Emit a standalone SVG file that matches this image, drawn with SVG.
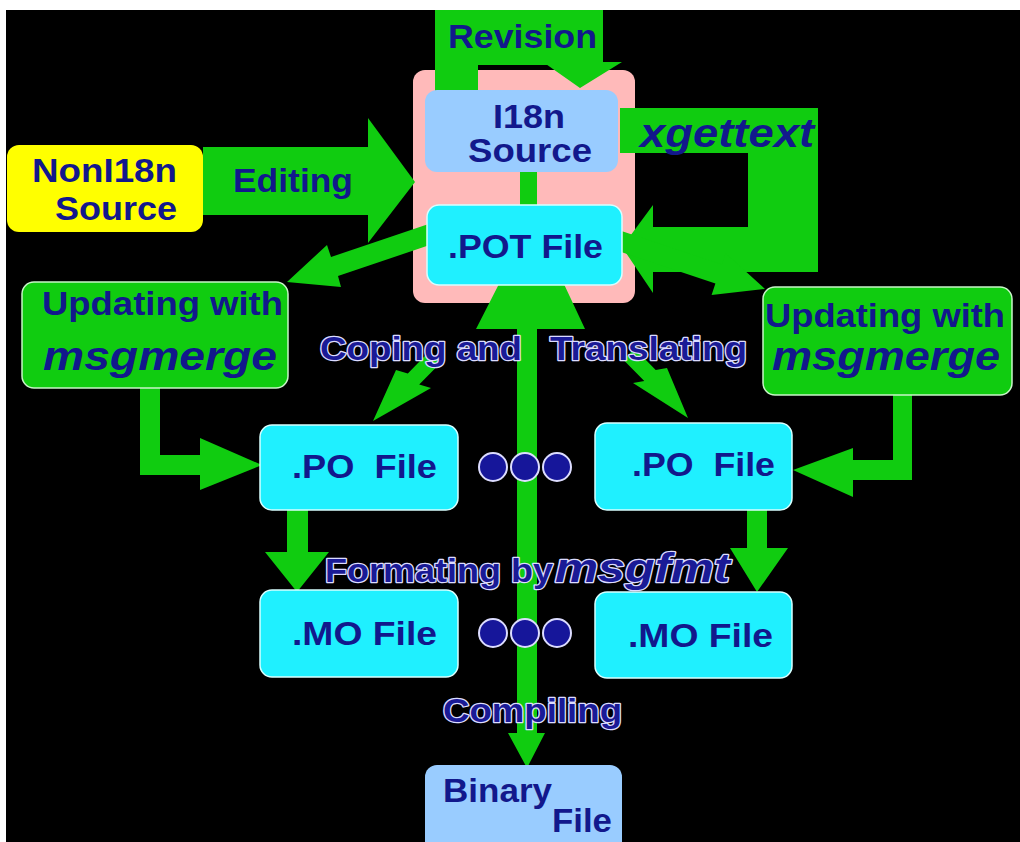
<svg xmlns="http://www.w3.org/2000/svg" width="1020" height="842" viewBox="0 0 1020 842">
<style>
text{font-family:"Liberation Sans",Arial,sans-serif;font-weight:bold;fill:#12188c}
.t{font-size:33px}
.it{font-style:italic;font-size:41px}
.halo{stroke:#dcdcff;stroke-width:2.5px;paint-order:stroke fill;fill:#1a1a96;stroke-linejoin:round}
.g{fill:#10cc10}
.gbox{fill:#10cc10;stroke:#c8f5c8;stroke-width:1.5}
.cyan{fill:#1ff0ff;stroke:#d8ffff;stroke-width:1.5}
.blue{fill:#99ccff}
.dot{fill:#16169a;stroke:#dcdcff;stroke-width:2}
</style>
<rect x="0" y="0" width="1020" height="842" fill="#000"/>
<rect x="0" y="0" width="1020" height="10" fill="#fff"/>
<rect x="0" y="0" width="6" height="842" fill="#fff"/>

<g id="source-area">
<rect x="413" y="70" width="222" height="233" rx="12" fill="#ffbaba"/>
</g>

<g id="connectors">
<!-- Editing -->
<polygon class="g" points="203,147 368,147 368,118 415,182 368,243 368,215 203,215"/>
<!-- Revision loop -->
<polygon class="g" points="435,95 435,10 603,10 603,62 622,62 580,88 543,62 558,62 558,65 478,65 478,95"/>
<!-- xgettext loop -->
<polygon class="g" points="620,108 818,108 818,272 653,272 653,293 622,247 653,205 653,227 748,227 748,153 620,153"/>
<!-- I18n to POT -->
<rect class="g" x="520" y="170" width="17" height="38"/>
<!-- POT to left msgmerge -->
<polygon class="g" points="287,282 341,287 338,276 480,228 473,209 331,257 327,245"/>
<!-- POT to right msgmerge -->
<polygon class="g" points="765,289 711.6,295 715.4,283.6 573.2,235.9 579.6,216.9 721.8,264.6 725.6,253.2"/>
<!-- left msgmerge to left PO -->
<polygon class="g" points="140,386 160,386 160,455 200,455 200,438 262,465 200,490 200,475 140,475"/>
<!-- right msgmerge to right PO -->
<polygon class="g" points="893,393 912,393 912,480 853,480 853,497 793,470 853,448 853,460 893,460"/>
<!-- central vertical: POT / Compiling to Binary -->
<polygon class="g" points="476,329 500,282 563,282 585,329 537,329 537,733 545,733 527,768 508,733 517,733 517,329"/>
<!-- Coping heads -->
<polygon class="g" points="373,421 396,370 407.8,373.4 428.8,352.1 440.2,363.3 419.2,384.6 431,388"/>
<polygon class="g" points="688,418 633,383 644.3,381.1 623.3,359.8 634.7,348.6 655.7,369.9 667,368"/>
<!-- PO to MO -->
<polygon class="g" points="287,508 308,508 308,552 329,552 297,592 265,552 287,552"/>
<polygon class="g" points="747,508 767,508 767,548 788,548 757,592 730,548 747,548"/>
</g>

<g id="i18n-source">
<rect x="425" y="90" width="193" height="82" rx="12" class="blue"/>
<text class="t" x="493" y="128" textLength="72" lengthAdjust="spacingAndGlyphs">I18n</text>
<text class="t" x="468" y="162" textLength="124" lengthAdjust="spacingAndGlyphs">Source</text>
</g>

<g id="pot-file">
<rect x="427" y="205" width="195" height="80" rx="12" class="cyan"/>
<text class="t" x="448" y="258" textLength="155" lengthAdjust="spacingAndGlyphs">.POT File</text>
</g>

<g id="non-i18n-source">
<rect x="7" y="145" width="196" height="87" rx="12" fill="#ffff00"/>
<text class="t" x="32" y="182" textLength="145" lengthAdjust="spacingAndGlyphs">NonI18n</text>
<text class="t" x="55" y="220" textLength="122" lengthAdjust="spacingAndGlyphs">Source</text>
</g>

<g id="update-left">
<rect x="22" y="282" width="266" height="106" rx="12" class="gbox"/>
<text class="t" x="42" y="315" textLength="241" lengthAdjust="spacingAndGlyphs">Updating with</text>
<text class="it" x="43" y="370" textLength="234" lengthAdjust="spacingAndGlyphs">msgmerge</text>
</g>

<g id="update-right">
<rect x="763" y="287" width="249" height="108" rx="12" class="gbox"/>
<text class="t" x="765" y="327" textLength="240" lengthAdjust="spacingAndGlyphs">Updating with</text>
<text class="it" x="772" y="370" textLength="228" lengthAdjust="spacingAndGlyphs">msgmerge</text>
</g>

<g id="po-left">
<rect x="260" y="425" width="198" height="85" rx="12" class="cyan"/>
<text class="t" x="292" y="478" textLength="145" lengthAdjust="spacingAndGlyphs" xml:space="preserve">.PO  File</text>
</g>

<g id="po-right">
<rect x="595" y="423" width="197" height="87" rx="12" class="cyan"/>
<text class="t" x="632" y="476" textLength="143" lengthAdjust="spacingAndGlyphs" xml:space="preserve">.PO  File</text>
</g>

<g id="mo-left">
<rect x="260" y="590" width="198" height="87" rx="12" class="cyan"/>
<text class="t" x="292" y="645" textLength="145" lengthAdjust="spacingAndGlyphs">.MO File</text>
</g>

<g id="mo-right">
<rect x="595" y="592" width="197" height="86" rx="12" class="cyan"/>
<text class="t" x="628" y="647" textLength="145" lengthAdjust="spacingAndGlyphs">.MO File</text>
</g>

<g id="binary-file">
<rect x="425" y="765" width="197" height="100" rx="12" class="blue"/>
<text class="t" x="443" y="802" textLength="109" lengthAdjust="spacingAndGlyphs">Binary</text>
<text class="t" x="552" y="832" textLength="60" lengthAdjust="spacingAndGlyphs">File</text>
</g>

<g id="dots">
<circle class="dot" cx="493" cy="467" r="14"/>
<circle class="dot" cx="525" cy="467" r="14"/>
<circle class="dot" cx="557" cy="467" r="14"/>
<circle class="dot" cx="493" cy="633" r="14"/>
<circle class="dot" cx="525" cy="633" r="14"/>
<circle class="dot" cx="557" cy="633" r="14"/>
</g>

<g id="labels">
<text class="t" x="448" y="48" textLength="149" lengthAdjust="spacingAndGlyphs">Revision</text>
<text class="t" x="233" y="192" textLength="120" lengthAdjust="spacingAndGlyphs">Editing</text>
<text class="it" x="640" y="147" textLength="174" lengthAdjust="spacingAndGlyphs">xgettext</text>
<text class="t halo" x="320" y="360" textLength="202" lengthAdjust="spacingAndGlyphs">Coping and</text>
<text class="t halo" x="550" y="360" textLength="197" lengthAdjust="spacingAndGlyphs">Translating</text>
<text class="t halo" x="325" y="582" textLength="228" lengthAdjust="spacingAndGlyphs">Formating by</text>
<text class="it halo" x="555" y="582" textLength="175" lengthAdjust="spacingAndGlyphs">msgfmt</text>
<text class="t halo" x="443" y="722" textLength="179" lengthAdjust="spacingAndGlyphs">Compiling</text>
</g>
</svg>
